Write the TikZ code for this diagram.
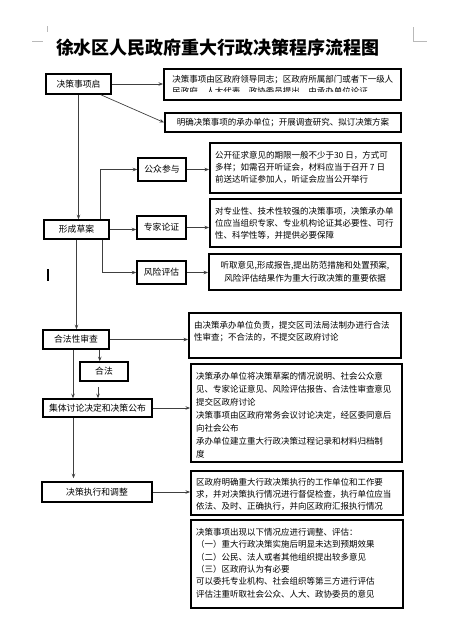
\documentclass[tikz,border=0pt]{standalone}
\usepackage{fontspec}
\setmainfont{Noto Sans CJK SC}
\usepackage{tikz}
\usetikzlibrary{arrows.meta}

% note text: box height, box width, lines
\newcommand{\notetext}[3]{\parbox[c][#1][t]{#2}{\raggedright #3}}

\begin{document}
\begin{tikzpicture}[
  x=1pt, y=-1pt,
  stepbox/.style={rectangle, draw=black, line width=1.5pt, inner sep=0pt,
                  align=center, font=\fontsize{8.8}{11}\selectfont},
  notebox/.style={rectangle, draw=black, line width=1.9pt, inner sep=0pt,
                  font=\fontsize{8.5}{12}\selectfont},
  arrow/.style={-{Stealth[length=4.5pt,width=3.5pt]}, line width=0.7pt, draw=black!75}
]
\useasboundingbox (0,0) rectangle (453,635);

% page corner marks and cursor
\draw[gray!55, line width=0.6pt] (47,26) -- (47,32) (32,41) -- (43,41);
\draw[gray!55, line width=0.6pt] (413,27) -- (413,41) -- (427,41);
\draw[black, line width=1.3pt] (48,269) -- (48,281);

\node[font=\fontsize{18}{18}\selectfont\bfseries] (title) at (218,47.5)
  {徐水区人民政府重大行政决策程序流程图};

% left column
\node[stepbox, minimum width=65, minimum height=20] (start) at (78.5,84) {决策事项启};
\node[stepbox, minimum width=65, minimum height=19] (draft) at (76.5,229.5) {形成草案};
\node[stepbox, minimum width=66, minimum height=19] (legal) at (76,339.5) {合法性审查};
\node[stepbox, minimum width=48, minimum height=19] (lawful) at (104,371.5) {合法};
\node[stepbox, minimum width=109, minimum height=18] (collective) at (97.5,408) {集体讨论决定和决策公布};
\node[stepbox, minimum width=110, minimum height=20] (exec) at (97,492) {决策执行和调整};

% middle column
\node[stepbox, minimum width=48, minimum height=23] (public) at (162,169.5) {公众参与};
\node[stepbox, minimum width=49, minimum height=23] (expert) at (161.5,227.5) {专家论证};
\node[stepbox, minimum width=49, minimum height=23] (risk) at (161.5,272.5) {风险评估};

% notes
\node[notebox, minimum width=237, minimum height=31] (ideaA) at (282.5,84.5) {};
\begin{scope}
  \clip (ideaA.north west) rectangle ([yshift=9pt]ideaA.south east);
  \node[anchor=north west, inner sep=0pt, align=left, font=\fontsize{8.5}{12}\selectfont]
    (ideaAtext) at ([xshift=9pt,yshift=-7pt]ideaA.north west)
    {决策事项由区政府领导同志；区政府所属部门或者下一级人\\
     民政府、人大代表、政协委员提出，由承办单位论证};
\end{scope}
\node[notebox, minimum width=236, minimum height=19] (ideaB) at (283,122.5)
  {明确决策事项的承办单位；开展调查研究、拟订决策方案};
\node[notebox, minimum width=191, minimum height=50] (ideaC) at (305.5,168) {\notetext{34pt}{181pt}{%
  公开征求意见的期限一般不少于30 日，方式可\\
  多样；如需召开听证会，材料应当于召开 7 日\\
  前送达听证参加人，听证会应当公开举行}};
\node[notebox, minimum width=191, minimum height=48] (ideaD) at (305.5,223) {\notetext{32pt}{181pt}{%
  对专业性、技术性较强的决策事项，决策承办单\\
  位应当组织专家、专业机构论证其必要性、可行\\
  性、科学性等，并提供必要保障}};
\node[notebox, minimum width=192, minimum height=36, align=center,
      font=\fontsize{8.5}{13}\selectfont] (ideaE) at (305,272)
  {听取意见,形成报告,提出防范措施和处置预案,\\
   风险评估结果作为重大行政决策的重要依据};
\node[notebox, minimum width=212, minimum height=45] (ideaF) at (295,335.5) {\notetext{29pt}{202pt}{%
  由决策承办单位负责，提交区司法局法制办进行合法\\
  性审查；不合法的，不提交区政府讨论}};
\node[notebox, minimum width=211, minimum height=98,
      font=\fontsize{8.5}{13}\selectfont] (ideaG) at (296.5,413) {\notetext{82pt}{201pt}{%
  决策承办单位将决策草案的情况说明、社会公众意\\
  见、专家论证意见、风险评估报告、合法性审查意见\\
  提交区政府讨论\\
  决策事项由区政府常务会议讨论决定，经区委同意后\\
  向社会公布\\
  承办单位建立重大行政决策过程记录和材料归档制\\
  度}};
\node[notebox, minimum width=212, minimum height=44] (ideaH) at (297,493) {\notetext{29pt}{202pt}{%
  区政府明确重大行政决策执行的工作单位和工作要\\
  求，并对决策执行情况进行督促检查，执行单位应当\\
  依法、及时、正确执行，并向区政府汇报执行情况}};
\node[notebox, minimum width=212, minimum height=88,
      font=\fontsize{8.5}{12.4}\selectfont] (ideaI) at (297,564) {\notetext{72pt}{202pt}{%
  决策事项出现以下情况应进行调整、评估：\\
  （一）重大行政决策实施后明显未达到预期效果\\
  （二）公民、法人或者其他组织提出较多意见\\
  （三）区政府认为有必要\\
  可以委托专业机构、社会组织等第三方进行评估\\
  评估注重听取社会公众、人大、政协委员的意见}};

% connectors
\coordinate (startout) at ([xshift=-11pt]start.south east);
\coordinate (draftup) at ([xshift=-9pt]draft.north east);
\coordinate (draftdown) at ([xshift=-7pt]draft.south east);
\coordinate (legalout) at ([xshift=-10pt]legal.south east);
\coordinate (legaldown) at ([xshift=-3pt]legal.south);
\coordinate (lawfulout) at ([xshift=-6pt]lawful.south);
\coordinate (collectivedown) at ([xshift=-24pt]collective.south);

\draw[arrow] (start.east) -- (ideaA.west |- start.east);
\draw[arrow] (startout) -- (ideaB.west);
\draw[arrow] (start.south) -- (draft.north -| start.south);
\draw[arrow] (draftup) |- (public.west);
\draw[arrow] (draft.east) -- (expert.west |- draft.east);
\draw[arrow] (draftdown) |- (risk.west);
\draw[arrow] (public.east) -- (ideaC.west |- public.east);
\draw[arrow] (expert.east) -- (ideaD.west |- expert.east);
\draw[arrow] (risk.east) -- (ideaE.west |- risk.east);
\draw[arrow] (draft.south) -- (legal.north -| draft.south);
\draw[arrow] (legal.east) -- (ideaF.west |- legal.east);
\draw[arrow] (legalout) -- (legalout |- lawful.north);
\draw[arrow, shorten <=5pt] (lawfulout) -- (lawfulout |- collective.north);
\draw[arrow] (legaldown) -- (legaldown |- collective.north);
\draw[arrow] (collective.east) -- (ideaG.west |- collective.east);
\draw[arrow, shorten >=3pt] (collectivedown) -- (collectivedown |- exec.north);
\draw[arrow] (exec.east) -- (ideaH.west |- exec.east);
\end{tikzpicture}
\end{document}
